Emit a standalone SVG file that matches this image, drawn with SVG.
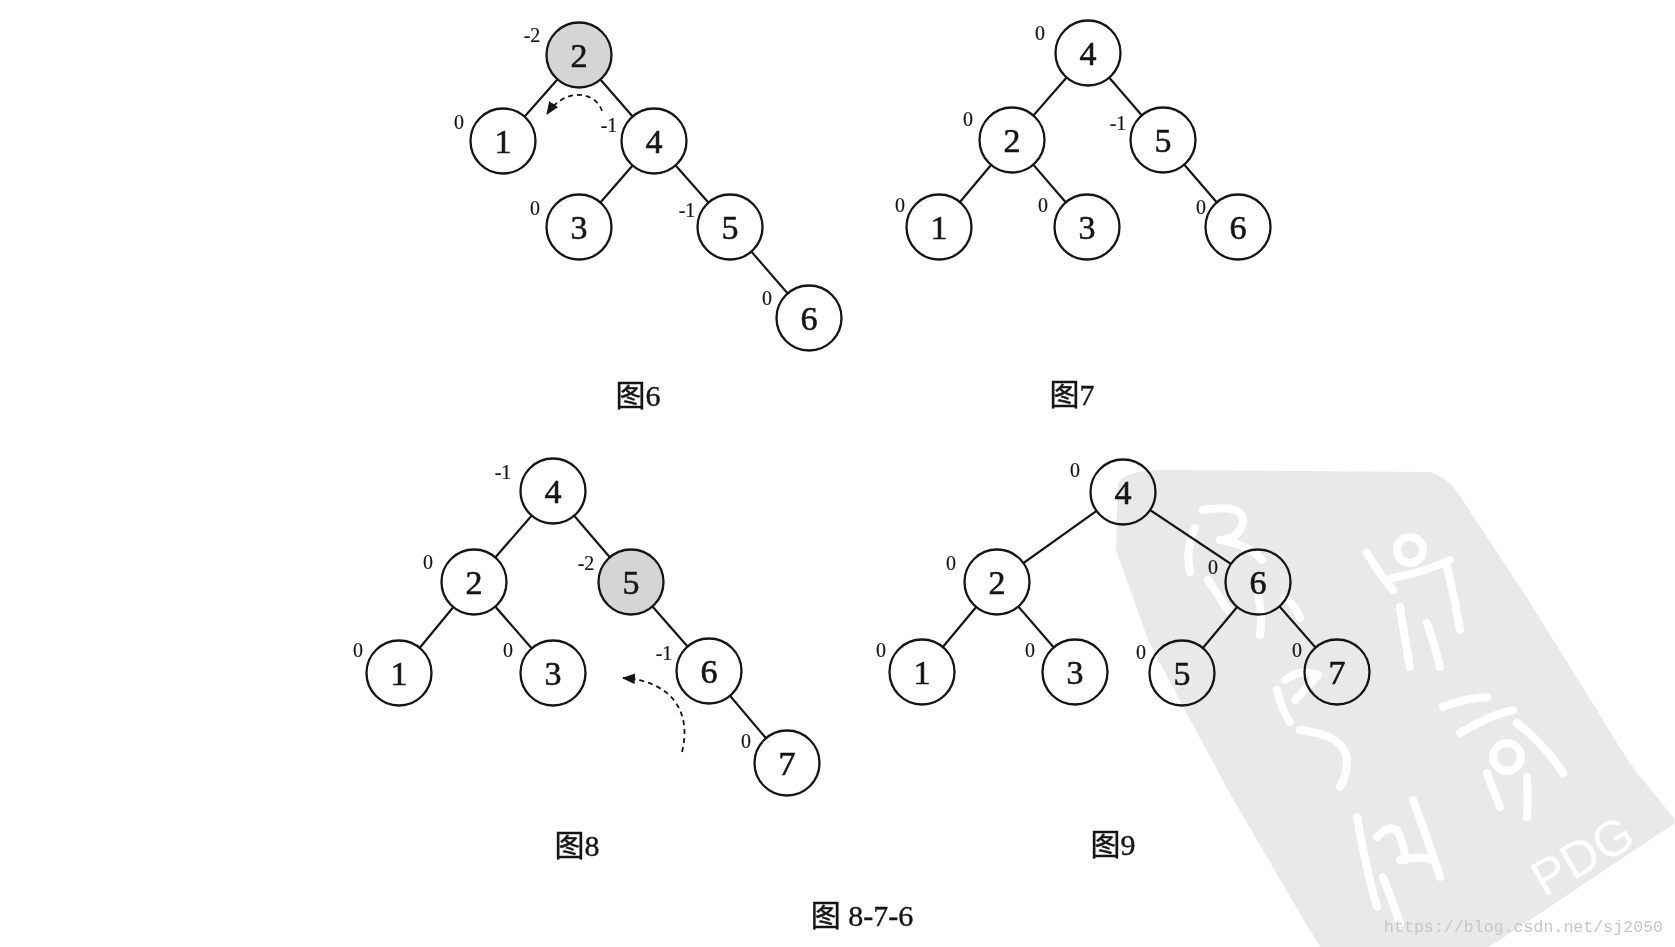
<svg xmlns="http://www.w3.org/2000/svg" width="1675" height="947" viewBox="0 0 1675 947">
<style>
  .n circle { fill:#ffffff; stroke:#151515; stroke-width:2.3; }
  .n.hl circle { fill:#d5d5d5; }
  .n .v { font-family:"Liberation Serif", serif; font-size:34px; text-anchor:middle; fill:#151515; stroke:#151515; stroke-width:0.6; }
  .n .bf { font-family:"Liberation Serif", serif; font-size:20px; text-anchor:middle; fill:#151515; stroke:#151515; stroke-width:0.2; }
  .cap { font-family:"Liberation Serif", "Noto Sans CJK SC", serif; font-size:30px; text-anchor:middle; fill:#151515; stroke:#151515; stroke-width:0.4; }
  .edges line { stroke:#151515; stroke-width:2.2; }
  .rot { fill:none; stroke:#151515; stroke-width:1.8; stroke-dasharray:5 4; }
  .wm path, .wm circle { fill:none; stroke:#ffffff; stroke-width:8; stroke-linecap:round; stroke-linejoin:round; }
</style>
<defs>
  <marker id="ah" viewBox="0 0 12 10" refX="11" refY="5" markerWidth="13" markerHeight="11" markerUnits="userSpaceOnUse" orient="auto">
    <path d="M0,0 L12,5 L0,10 z" fill="#151515"/>
  </marker>
</defs>
<rect x="0" y="0" width="1675" height="947" fill="#ffffff"/>

<g id="connectors" class="edges">
  <!-- fig 6 -->
  <line x1="579" y1="55" x2="503" y2="141"/>
  <line x1="579" y1="55" x2="654" y2="141"/>
  <line x1="654" y1="141" x2="579" y2="227"/>
  <line x1="654" y1="141" x2="730" y2="227"/>
  <line x1="730" y1="227" x2="809" y2="318"/>
  <!-- fig 7 -->
  <line x1="1088" y1="53" x2="1012" y2="140"/>
  <line x1="1088" y1="53" x2="1163" y2="140"/>
  <line x1="1012" y1="140" x2="939" y2="227"/>
  <line x1="1012" y1="140" x2="1087" y2="227"/>
  <line x1="1163" y1="140" x2="1238" y2="227"/>
  <!-- fig 8 -->
  <line x1="553" y1="491" x2="474" y2="582"/>
  <line x1="553" y1="491" x2="631" y2="582"/>
  <line x1="474" y1="582" x2="399" y2="673"/>
  <line x1="474" y1="582" x2="553" y2="673"/>
  <line x1="631" y1="582" x2="709" y2="671"/>
  <line x1="709" y1="671" x2="787" y2="763"/>
  <!-- fig 9 -->
  <line x1="1123" y1="492" x2="997" y2="582"/>
  <line x1="1123" y1="492" x2="1258" y2="582"/>
  <line x1="997" y1="582" x2="922" y2="672"/>
  <line x1="997" y1="582" x2="1075" y2="672"/>
  <line x1="1258" y1="582" x2="1182" y2="673"/>
  <line x1="1258" y1="582" x2="1337" y2="672"/>
  <!-- rotation arrows -->
  <path class="rot" d="M602,111 C596,92 566,86 547,114" marker-end="url(#ah)"/>
  <path class="rot" d="M682,752 C692,712 672,681 623,678" marker-end="url(#ah)"/>
</g>

<!-- Figure 6 -->
<g id="f6-n2" class="n hl"><circle cx="579" cy="55" r="32.5"/><text class="v" x="579" y="67">2</text><text class="bf" x="532" y="42">-2</text></g>
<g id="f6-n1" class="n"><circle cx="503" cy="141" r="32.5"/><text class="v" x="503" y="153">1</text><text class="bf" x="459" y="129">0</text></g>
<g id="f6-n4" class="n"><circle cx="654" cy="141" r="32.5"/><text class="v" x="654" y="153">4</text><text class="bf" x="609" y="132">-1</text></g>
<g id="f6-n3" class="n"><circle cx="579" cy="227" r="32.5"/><text class="v" x="579" y="239">3</text><text class="bf" x="535" y="215">0</text></g>
<g id="f6-n5" class="n"><circle cx="730" cy="227" r="32.5"/><text class="v" x="730" y="239">5</text><text class="bf" x="687" y="217">-1</text></g>
<g id="f6-n6" class="n"><circle cx="809" cy="318" r="32.5"/><text class="v" x="809" y="330">6</text><text class="bf" x="767" y="305">0</text></g>
<text class="cap" x="638" y="406">图6</text>

<!-- Figure 7 -->
<g id="f7-n4" class="n"><circle cx="1088" cy="53" r="32.5"/><text class="v" x="1088" y="65">4</text><text class="bf" x="1040" y="40">0</text></g>
<g id="f7-n2" class="n"><circle cx="1012" cy="140" r="32.5"/><text class="v" x="1012" y="152">2</text><text class="bf" x="968" y="126">0</text></g>
<g id="f7-n5" class="n"><circle cx="1163" cy="140" r="32.5"/><text class="v" x="1163" y="152">5</text><text class="bf" x="1118" y="130">-1</text></g>
<g id="f7-n1" class="n"><circle cx="939" cy="227" r="32.5"/><text class="v" x="939" y="239">1</text><text class="bf" x="900" y="212">0</text></g>
<g id="f7-n3" class="n"><circle cx="1087" cy="227" r="32.5"/><text class="v" x="1087" y="239">3</text><text class="bf" x="1043" y="212">0</text></g>
<g id="f7-n6" class="n"><circle cx="1238" cy="227" r="32.5"/><text class="v" x="1238" y="239">6</text><text class="bf" x="1201" y="214">0</text></g>
<text class="cap" x="1072" y="405">图7</text>

<!-- Figure 8 -->
<g id="f8-n4" class="n"><circle cx="553" cy="491" r="32.5"/><text class="v" x="553" y="503">4</text><text class="bf" x="503" y="479">-1</text></g>
<g id="f8-n2" class="n"><circle cx="474" cy="582" r="32.5"/><text class="v" x="474" y="594">2</text><text class="bf" x="428" y="569">0</text></g>
<g id="f8-n5" class="n hl"><circle cx="631" cy="582" r="32.5"/><text class="v" x="631" y="594">5</text><text class="bf" x="586" y="570">-2</text></g>
<g id="f8-n1" class="n"><circle cx="399" cy="673" r="32.5"/><text class="v" x="399" y="685">1</text><text class="bf" x="358" y="657">0</text></g>
<g id="f8-n3" class="n"><circle cx="553" cy="673" r="32.5"/><text class="v" x="553" y="685">3</text><text class="bf" x="508" y="657">0</text></g>
<g id="f8-n6" class="n"><circle cx="709" cy="671" r="32.5"/><text class="v" x="709" y="683">6</text><text class="bf" x="664" y="660">-1</text></g>
<g id="f8-n7" class="n"><circle cx="787" cy="763" r="32.5"/><text class="v" x="787" y="775">7</text><text class="bf" x="746" y="748">0</text></g>
<text class="cap" x="577" y="856">图8</text>

<!-- Figure 9 -->
<g id="f9-n4" class="n"><circle cx="1123" cy="492" r="32.5"/><text class="v" x="1123" y="504">4</text><text class="bf" x="1075" y="477">0</text></g>
<g id="f9-n2" class="n"><circle cx="997" cy="582" r="32.5"/><text class="v" x="997" y="594">2</text><text class="bf" x="951" y="570">0</text></g>
<g id="f9-n6" class="n"><circle cx="1258" cy="582" r="32.5"/><text class="v" x="1258" y="594">6</text><text class="bf" x="1213" y="574">0</text></g>
<g id="f9-n1" class="n"><circle cx="922" cy="672" r="32.5"/><text class="v" x="922" y="684">1</text><text class="bf" x="881" y="657">0</text></g>
<g id="f9-n3" class="n"><circle cx="1075" cy="672" r="32.5"/><text class="v" x="1075" y="684">3</text><text class="bf" x="1030" y="657">0</text></g>
<g id="f9-n5" class="n"><circle cx="1182" cy="673" r="32.5"/><text class="v" x="1182" y="685">5</text><text class="bf" x="1141" y="659">0</text></g>
<g id="f9-n7" class="n"><circle cx="1337" cy="672" r="32.5"/><text class="v" x="1337" y="684">7</text><text class="bf" x="1297" y="657">0</text></g>
<text class="cap" x="1113" y="855">图9</text>

<text class="cap" x="862" y="926">图 8-7-6</text>

<!-- watermark -->
<g id="watermark" style="mix-blend-mode:multiply">
  <path d="M1118,483 C1125,472 1150,469 1173,470 L1430,472 C1450,478 1460,495 1467,507 L1522,590 L1595,707 C1615,740 1630,765 1643,780 C1655,795 1668,810 1675,820 L1675,823 L1500,940 L1488,947 L1320,947 L1276,873 L1228,790 L1192,723 L1148,640 L1116,550 Z" fill="#e9e9e9"/>
  <g class="wm">
    <path d="M1203,510 Q1245,503 1243,523 Q1238,540 1220,540 Q1250,545 1262,560"/>
    <path d="M1195,528 Q1185,550 1190,572"/>
    <path d="M1208,580 Q1218,595 1228,610"/>
    <path d="M1258,595 Q1263,615 1260,635"/>
    <path d="M1285,598 Q1295,605 1300,618"/>
    <circle cx="1410" cy="550" r="13"/>
    <path d="M1367,553 Q1380,575 1393,590"/>
    <path d="M1392,578 Q1425,572 1450,560"/>
    <path d="M1400,607 Q1405,640 1410,667"/>
    <path d="M1447,567 Q1455,600 1460,630"/>
    <path d="M1427,623 Q1435,645 1440,667"/>
    <path d="M1277,690 Q1282,710 1290,722"/>
    <path d="M1285,680 Q1300,668 1318,675 Q1305,690 1295,700"/>
    <path d="M1300,730 Q1345,735 1347,760 Q1347,775 1340,787"/>
    <path d="M1443,707 Q1465,698 1487,697"/>
    <path d="M1460,733 Q1490,715 1513,710"/>
    <circle cx="1507" cy="757" r="14"/>
    <path d="M1517,723 Q1545,745 1563,773"/>
    <path d="M1487,773 Q1493,790 1500,807"/>
    <path d="M1527,777 Q1528,800 1527,817"/>
    <path d="M1357,817 Q1365,865 1377,907"/>
    <path d="M1377,837 Q1387,825 1397,830 Q1405,845 1405,860"/>
    <path d="M1413,800 Q1428,840 1440,877"/>
    <path d="M1383,877 Q1392,900 1400,923"/>
    <path d="M1400,860 Q1420,855 1432,860"/>
  </g>
  <text x="0" y="18" transform="translate(1582,855) rotate(-30)" font-family="Liberation Sans, sans-serif" font-size="50" text-anchor="middle" fill="#ffffff">PDG</text>
  <text x="1384" y="932" font-family="Liberation Mono, monospace" font-size="16.5" textLength="279" fill="#c6c6c6">https://blog.csdn.net/sj2050</text>
</g>
</svg>
